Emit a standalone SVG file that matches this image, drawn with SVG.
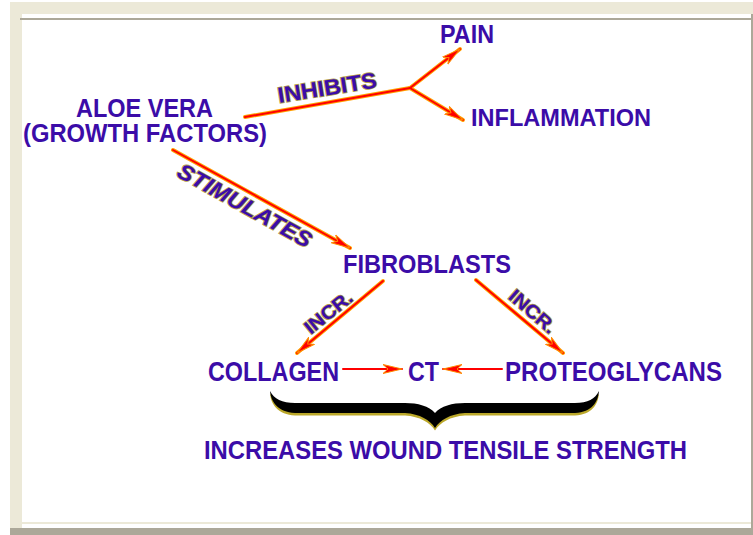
<svg xmlns="http://www.w3.org/2000/svg" width="753" height="535" viewBox="0 0 753 535">
  <style>
    .t { font-family: "Liberation Sans", Arial, sans-serif; font-weight: bold; fill: #3B0CA8; }
    .lbl { font-family: "Liberation Sans", Arial, sans-serif; font-weight: bold; fill: #3B0CA8; stroke: #B4A24A; stroke-width: 1.6; paint-order: stroke; }
    .under { fill: none; stroke: #FFA000; stroke-width: 4; stroke-linecap: round; }
    .over { fill: none; stroke: #FF0000; stroke-width: 2; stroke-linecap: round; }
  </style>
  <defs>
    <marker id="ah" viewBox="0 0 20 12" refX="19" refY="6" markerWidth="20" markerHeight="12" markerUnits="userSpaceOnUse" orient="auto">
      <path d="M0,1.5 L19,6 L0,10.5 L5,6 Z" fill="#FF0000" stroke="#FF8C00" stroke-width="1" stroke-linejoin="round"/>
    </marker>
  </defs>

  <!-- window frame -->
  <rect x="0" y="0" width="753" height="535" fill="#FFFFFF"/>
  <rect x="10" y="2" width="743" height="12" fill="#ECE9D8"/>
  <rect x="10" y="2" width="12" height="526" fill="#ECE9D8"/>
  <rect x="20" y="18" width="733" height="2" fill="#ACA899"/>
  <rect x="751" y="14" width="2" height="514" fill="#ACA899"/>
  <rect x="22" y="522" width="729" height="2" fill="#ECE9D8"/>
  <rect x="10" y="528" width="743" height="7" fill="#ACA899"/>

  <!-- connectors -->
  <g id="connectors">
    <g id="inhibits-arrow">
      <polyline class="under" points="245,117 410,88"/>
      <polyline class="under" points="410,88 460,49"/>
      <polyline class="under" points="410,88 463,120"/>
      <line class="over" x1="245" y1="117" x2="410" y2="88"/>
      <line class="over" x1="410" y1="88" x2="460" y2="49" marker-end="url(#ah)"/>
      <line class="over" x1="410" y1="88" x2="463" y2="120" marker-end="url(#ah)"/>
    </g>
    <g id="stimulates-arrow">
      <line class="under" x1="173" y1="150" x2="350" y2="248"/>
      <line class="over" x1="173" y1="150" x2="350" y2="248" marker-end="url(#ah)"/>
    </g>
    <g id="incr-left-arrow">
      <line class="under" x1="383" y1="281" x2="297" y2="353"/>
      <line class="over" x1="383" y1="281" x2="297" y2="353" marker-end="url(#ah)"/>
    </g>
    <g id="incr-right-arrow">
      <line class="under" x1="476" y1="280" x2="563" y2="353"/>
      <line class="over" x1="476" y1="280" x2="563" y2="353" marker-end="url(#ah)"/>
    </g>
    <g id="collagen-ct">
      <line class="over" x1="343" y1="369" x2="402" y2="369" stroke-width="3" marker-end="url(#ah)"/>
    </g>
    <g id="proteo-ct">
      <line class="over" x1="502" y1="369" x2="443" y2="369" stroke-width="3" marker-end="url(#ah)"/>
    </g>
    <g id="connector-labels">
      <text class="lbl" font-size="22" transform="translate(279,103) rotate(-9)" textLength="100" lengthAdjust="spacingAndGlyphs">INHIBITS</text>
      <text class="lbl" font-size="22" font-style="italic" text-anchor="middle" transform="translate(245,205) rotate(29)" y="8" textLength="150" lengthAdjust="spacingAndGlyphs">STIMULATES</text>
      <text class="lbl" font-size="19" text-anchor="middle" transform="translate(328,312) rotate(-39)" y="7" textLength="56" lengthAdjust="spacingAndGlyphs">INCR.</text>
      <text class="lbl" font-size="19" text-anchor="middle" transform="translate(533,311) rotate(41)" y="7" textLength="56" lengthAdjust="spacingAndGlyphs">INCR.</text>
    </g>
  </g>

  <!-- nodes -->
  <g id="node-aloe">
    <text class="t" x="76" y="117" font-size="25" textLength="137" lengthAdjust="spacingAndGlyphs">ALOE VERA</text>
    <text class="t" x="23" y="142" font-size="25" textLength="244" lengthAdjust="spacingAndGlyphs">(GROWTH FACTORS)</text>
  </g>
  <g id="node-pain">
    <text class="t" x="440" y="43" font-size="26" textLength="54" lengthAdjust="spacingAndGlyphs">PAIN</text>
  </g>
  <g id="node-inflammation">
    <text class="t" x="471" y="126" font-size="24" textLength="180" lengthAdjust="spacingAndGlyphs">INFLAMMATION</text>
  </g>
  <g id="node-fibroblasts">
    <text class="t" x="343" y="273" font-size="25" textLength="168" lengthAdjust="spacingAndGlyphs">FIBROBLASTS</text>
  </g>
  <g id="node-collagen">
    <text class="t" x="208" y="380.5" font-size="28" textLength="131" lengthAdjust="spacingAndGlyphs">COLLAGEN</text>
  </g>
  <g id="node-ct">
    <text class="t" x="408" y="380.5" font-size="28" textLength="31" lengthAdjust="spacingAndGlyphs">CT</text>
  </g>
  <g id="node-proteoglycans">
    <text class="t" x="505" y="380.5" font-size="28" textLength="217" lengthAdjust="spacingAndGlyphs">PROTEOGLYCANS</text>
  </g>
  <g id="node-brace">
    <path transform="translate(0,2.5)" fill="#BBA82A" d="M270,391 C271,402 278,412 295,413 L405,413 C420,414 430,420 435,428 C440,420 450,414 465,413 L575,413 C592,412 598,402 599,391 C595,399 588,403 575,403 L465,403 C452,403 441,406 435,413 C429,406 418,403 405,403 L295,403 C282,403 274,399 270,391 Z"/>
    <path fill="#000000" d="M270,391 C271,402 278,412 295,413 L405,413 C420,414 430,420 435,428 C440,420 450,414 465,413 L575,413 C592,412 598,402 599,391 C595,399 588,403 575,403 L465,403 C452,403 441,406 435,413 C429,406 418,403 405,403 L295,403 C282,403 274,399 270,391 Z"/>
  </g>
  <g id="node-result">
    <text class="t" x="204" y="459" font-size="25" textLength="483" lengthAdjust="spacingAndGlyphs">INCREASES WOUND TENSILE STRENGTH</text>
  </g>
</svg>
